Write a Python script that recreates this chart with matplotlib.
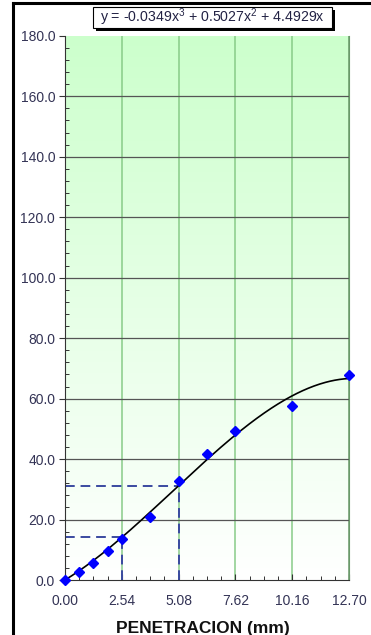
import numpy as np
import matplotlib
matplotlib.use("Agg")
import matplotlib.pyplot as plt
from matplotlib.colors import LinearSegmentedColormap
from matplotlib.ticker import MultipleLocator

# Ensayo de penetración: carga vs penetración
penetracion = [0.00, 0.635, 1.27, 1.905, 2.54, 3.81, 5.08, 6.35, 7.62, 10.16, 12.70]
carga = [0.0, 2.7, 5.7, 9.6, 13.7, 21.0, 32.6, 41.6, 49.3, 57.7, 67.7]

# Ajuste polinómico de tercer grado
coef = [-0.0349, 0.5027, 4.4929]
ecuacion = "y = -0.0349x$^3$ + 0.5027x$^2$ + 4.4929x"

x_ticks = [0.00, 2.54, 5.08, 7.62, 10.16, 12.70]
x_ticklabels = ["0.00", "2.54", "5.08", "7.62", "10.16", "12.70"]
y_ticks = [0, 20, 40, 60, 80, 100, 120, 140, 160, 180]
x_label = "PENETRACION (mm)"

def ajuste(x):
    return coef[0] * x**3 + coef[1] * x**2 + coef[2] * x

plt.rcParams["font.family"] = ["Liberation Sans", "DejaVu Sans"]
plt.rcParams["mathtext.fontset"] = "custom"
plt.rcParams["mathtext.rm"] = "Liberation Sans"

W, H = 371.0, 635.0
fig = plt.figure(figsize=(W / 100, H / 100), dpi=100)
ax = fig.add_axes([0.175, 0.0866, 0.766, 0.857])

ax.set_xlim(0, 12.70)
ax.set_ylim(0, 180)

# Fondo degradado verde -> blanco
cmap = LinearSegmentedColormap.from_list("fondo", ["#ffffff", "#e6ffe6", "#ccffcc"])
grad = np.linspace(0, 1, 256).reshape(-1, 1)
ax.imshow(grad, aspect="auto", cmap=cmap, origin="lower",
          extent=[0, 12.70, 0, 180], zorder=0)

# Rejilla
for xv in x_ticks[1:]:
    ax.axvline(xv, color="#88cc88" if xv < 12.7 else "#6a9a6a", lw=1.1, zorder=1)
for yv in y_ticks[1:-1]:
    ax.axhline(yv, color="#555555", lw=0.9, zorder=1)

# Curva de ajuste
xs = np.linspace(0, 12.70, 300)
ax.plot(xs, ajuste(xs), color="black", lw=1.2, zorder=3)

# Líneas de referencia a 2.54 y 5.08 mm
for xr in (2.54, 5.08):
    yr = ajuste(xr)
    ax.plot([0, xr], [yr, yr], color="#3a4aa0", lw=1.4, ls=(0, (5, 3)), zorder=2)
    ax.plot([xr, xr], [0, yr], color="#3a4aa0", lw=1.4, ls=(0, (5, 3)), zorder=2)

# Puntos medidos
ax.plot(penetracion, carga, ls="none", marker="D", ms=5.5, color="#0000ff",
        zorder=4, clip_on=False)

# Ejes
ax.set_xticks(x_ticks)
ax.set_xticklabels(x_ticklabels)
ax.set_yticks(y_ticks)
ax.set_yticklabels([f"{v:.1f}" for v in y_ticks])
ax.xaxis.set_minor_locator(MultipleLocator(0.635))
ax.yaxis.set_minor_locator(MultipleLocator(4))
ax.tick_params(axis="both", which="major", labelsize=10, labelcolor="#333355",
               length=4, width=0.8, color="#333333")
ax.tick_params(axis="y", which="major", direction="out", pad=3)
ax.tick_params(axis="x", which="major", direction="in", pad=10)
ax.tick_params(axis="both", which="minor", direction="in", length=3, width=0.7,
               color="#333333")

ax.spines["top"].set_visible(False)
ax.spines["right"].set_color("#6a9a6a")
ax.spines["left"].set_color("#333333")
ax.spines["bottom"].set_color("#333333")
ax.spines["left"].set_linewidth(0.8)

# Título del eje X
fig.text(203 / W, 1 - 621 / H, x_label, fontsize=12.5, fontweight="bold",
         ha="center", va="top", color="#111111")

# Cuadro con la ecuación (con sombra)
bx0, bx1, by0, by1 = 93 / W, 332 / W, 1 - 28 / H, 1 - 7 / H
fig.patches.append(plt.Rectangle((bx0 + 3 / W, by0 - 3 / H), bx1 - bx0, by1 - by0,
                                 transform=fig.transFigure, fc="black", ec="none"))
fig.patches.append(plt.Rectangle((bx0, by0), bx1 - bx0, by1 - by0,
                                 transform=fig.transFigure, fc="white", ec="black",
                                 lw=0.8))
fig.text((bx0 + bx1) / 2, (by0 + by1) / 2, ecuacion, fontsize=10.2, va="center",
         ha="center", color="#222244")

# Marco exterior
fig.add_artist(plt.Line2D([0.034, 0.034], [0, 0.995], color="black", lw=2.2,
                          transform=fig.transFigure))
fig.add_artist(plt.Line2D([0.034, 1.0], [0.995, 0.995], color="black", lw=2.2,
                          transform=fig.transFigure))

fig.savefig("out.png", dpi=100, facecolor="white")
